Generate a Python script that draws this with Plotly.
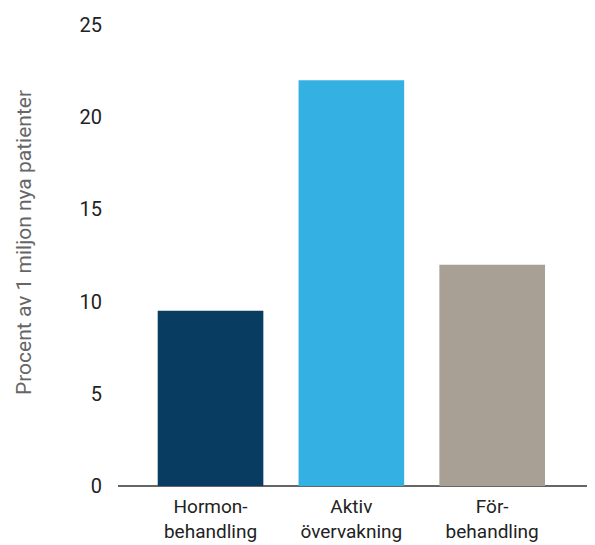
import plotly.graph_objects as go

categories = ["Hormon-<br>behandling", "Aktiv<br>övervakning", "För-<br>behandling"]
values = [9.5, 22, 12]
colors = ["#083d61", "#35b0e3", "#a89f95"]
y_ticks = [0, 5, 10, 15, 20, 25]

FONT = "Roboto, Liberation Sans, sans-serif"

fig = go.Figure(go.Bar(
    x=list(range(len(categories))),
    y=values,
    marker=dict(color=colors, line=dict(width=0)),
    width=0.75,
))

fig.update_layout(
    width=587, height=537,
    margin=dict(l=110, r=0, t=17, b=59),
    plot_bgcolor="white", paper_bgcolor="white",
    showlegend=False,
    font=dict(family=FONT, color="#222222"),
    xaxis=dict(
        tickmode="array",
        tickvals=list(range(len(categories))),
        ticktext=categories,
        range=[-0.657, 2.73],
        showgrid=False, zeroline=False,
        showline=False,
        ticks="",
        automargin=False,
        ticklabelstandoff=7,
        tickfont=dict(size=19, color="#222222"),
    ),
    yaxis=dict(
        range=[0, 25],
        tickvals=y_ticks,
        showgrid=False,
        zeroline=True, zerolinecolor="#666666", zerolinewidth=2,
        showline=False,
        ticks="",
        automargin=False,
        ticklabelstandoff=15,
        tickfont=dict(size=20, color="#222222"),
    ),
    annotations=[dict(
        text="Procent av 1 miljon nya patienter",
        textangle=-90,
        xref="paper", yref="paper",
        x=-94/477, y=0.527,
        xanchor="center", yanchor="middle",
        showarrow=False,
        font=dict(size=21, color="#666666", family=FONT),
    )],
)

fig.write_html("out.html")
